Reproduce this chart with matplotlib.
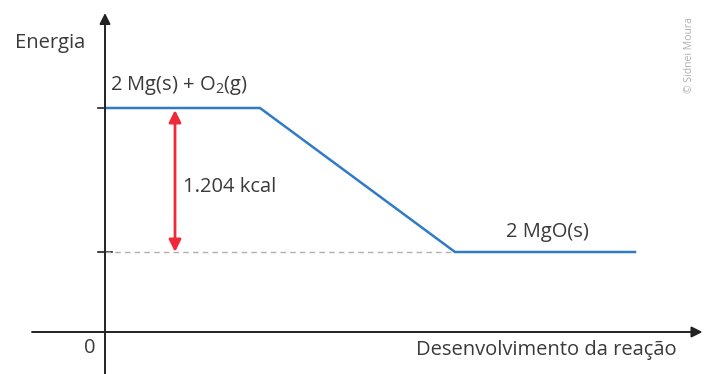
import matplotlib
matplotlib.use("Agg")
import matplotlib.pyplot as plt

# Data (arbitrary units): reaction progress vs energy
progress = [0.0, 3.1, 7.0, 10.6]
energy = [2.24, 2.24, 0.80, 0.80]
reactant_label = "2 Mg(s) + O$_2$(g)"
product_label = "2 MgO(s)"
delta_label = "1.204 kcal"
arrow_x = 1.4

plt.rcParams['font.family'] = ['Open Sans', 'DejaVu Sans']
plt.rcParams['mathtext.fontset'] = 'custom'
plt.rcParams['mathtext.rm'] = 'Open Sans'
txt = '#3a3a3a'
blue = '#2f7bc8'
red = '#ee2a3a'
fs = 14.5

fig = plt.figure(figsize=(7.06, 3.74), dpi=100)
ax = fig.add_axes([0, 0, 1, 1])
ax.set_xlim(-2.1, 12.02)
ax.set_ylim(-0.42, 3.32)
ax.axis('off')

# axes with arrows
ax.annotate('', xy=(0, 3.19), xytext=(0, -0.42),
            arrowprops=dict(arrowstyle='-|>', color='#222222', lw=1.4, mutation_scale=16, shrinkA=0, shrinkB=0))
ax.annotate('', xy=(11.95, 0), xytext=(-1.46, 0),
            arrowprops=dict(arrowstyle='-|>', color='#222222', lw=1.4, mutation_scale=16, shrinkA=0, shrinkB=0))

# ticks on energy axis
for e in (energy[0], energy[-1]):
    ax.plot([-0.14, 0.14], [e, e], color='#222222', lw=1.2)

# dashed reference at product level
ax.plot([0, progress[2]], [energy[2], energy[2]], color='#b0b0b0', lw=1.0, ls=(0, (4, 3)))

# energy profile
ax.plot(progress, energy, color=blue, lw=1.8, solid_joinstyle='miter')

# double arrow
ax.annotate('', xy=(arrow_x, energy[0] - 0.02), xytext=(arrow_x, energy[-1]),
            arrowprops=dict(arrowstyle='<|-|>', color=red, lw=2.0, mutation_scale=18, shrinkA=0, shrinkB=0))

ax.text(1.56, 1.45, delta_label, color=txt, fontsize=fs, ha='left', va='center')
ax.text(0.1, 2.42, reactant_label, color=txt, fontsize=fs, ha='left', va='baseline')
ax.text(8.84, 1.0, product_label, color=txt, fontsize=fs, ha='center', va='center')
ax.text(-0.4, 2.89, 'Energia', color=txt, fontsize=fs, ha='right', va='center')
ax.text(-0.3, -0.16, '0', color=txt, fontsize=fs, ha='center', va='center')
ax.text(11.44, -0.18, 'Desenvolvimento da reação', color=txt, fontsize=fs, ha='right', va='center')
ax.text(0.976, 0.853, '© Sidnei Moura', transform=fig.transFigure, rotation=90, color='#b0b0b0',
        fontsize=7.5, ha='center', va='center')

fig.savefig('out.png', dpi=100)
